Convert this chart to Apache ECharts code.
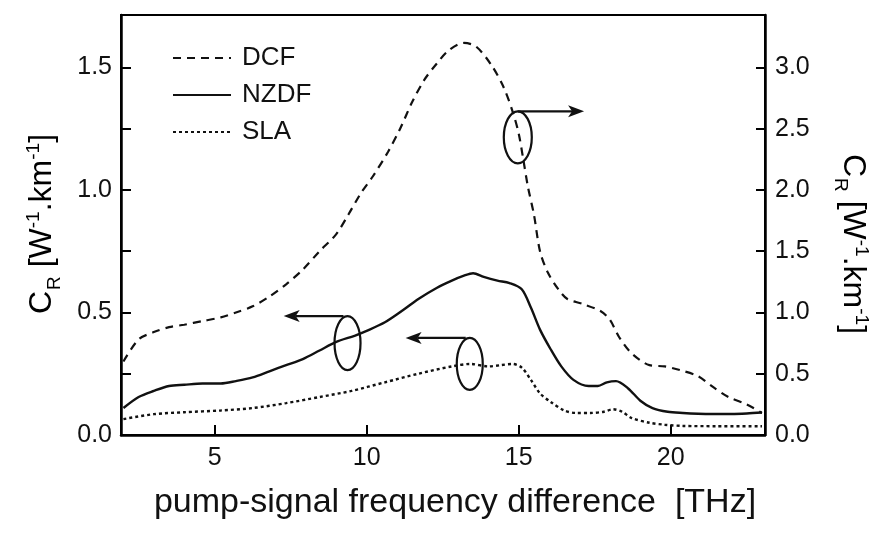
<!DOCTYPE html>
<html><head><meta charset="utf-8">
<script src="https://cdn.jsdelivr.net/npm/echarts@6/dist/echarts.min.js"></script>
<style>html,body{margin:0;padding:0;background:#fff}#c{width:883px;height:535px}</style>
</head><body><div id="c"></div>
<script>
const xTicks = [5, 10, 15, 20];
const dcfX = [2.0,2.5,3.0,3.5,4.0,4.6,5.2,5.7,6.25,6.8,7.35,7.9,8.45,9.0,9.4,9.8,10.2,10.7,11.1,11.5,11.9,12.3,12.7,13.2,13.6,14.1,14.5,14.8,15.0,15.15,15.3,15.5,15.7,15.95,16.3,16.6,17.1,17.7,18.0,18.3,18.7,19.3,19.8,20.3,20.9,21.4,21.9,22.5,23.0];
const dcfY = [0.60,0.78,0.84,0.88,0.90,0.93,0.96,1.00,1.05,1.13,1.23,1.35,1.50,1.64,1.80,1.97,2.11,2.31,2.50,2.72,2.90,3.03,3.14,3.20,3.17,3.02,2.84,2.64,2.46,2.25,2.03,1.80,1.50,1.33,1.19,1.11,1.07,1.01,0.94,0.80,0.67,0.57,0.56,0.53,0.48,0.39,0.31,0.25,0.18];
const nzdfX = [2.0,2.5,3.0,3.5,4.0,4.6,5.2,5.7,6.25,6.8,7.35,7.9,8.45,9.0,9.6,10.0,10.6,11.2,11.7,12.3,12.8,13.2,13.5,13.85,14.3,14.7,15.1,15.4,15.7,16.05,16.4,16.8,17.3,17.6,17.9,18.2,18.6,19.0,19.4,19.9,20.4,20.9,21.4,22.0,22.5,23.0];
const nzdfY = [0.11,0.155,0.18,0.20,0.205,0.21,0.21,0.22,0.235,0.26,0.285,0.31,0.345,0.38,0.405,0.425,0.46,0.51,0.555,0.60,0.63,0.65,0.66,0.645,0.63,0.62,0.595,0.52,0.43,0.35,0.28,0.225,0.20,0.20,0.215,0.22,0.19,0.14,0.11,0.095,0.09,0.087,0.086,0.086,0.088,0.092];
const slaX = [2.0,3.0,4.0,5.2,6.25,7.35,8.45,9.5,10.6,11.7,12.8,13.4,14.0,14.4,14.8,15.1,15.4,15.7,16.05,16.5,16.9,17.35,17.8,18.1,18.4,18.7,19.3,19.8,20.4,21.5,23.0];
const slaY = [0.065,0.085,0.093,0.10,0.11,0.13,0.155,0.18,0.215,0.25,0.28,0.29,0.28,0.285,0.29,0.275,0.225,0.17,0.135,0.10,0.09,0.09,0.095,0.105,0.095,0.07,0.05,0.042,0.037,0.036,0.036];
const seriesNames = ['DCF', 'NZDF', 'SLA'];
const xTitle = 'pump-signal frequency difference  [THz]';

const FONT = '"Liberation Sans", Arial, Helvetica, sans-serif';
const pair = (xs, ys) => xs.map((x, i) => [x, ys[i]]);
const chart = echarts.init(document.getElementById('c'), null, {renderer: 'canvas'});
const LMAX = 1.714, RMAX = 3.428;

const titleRich = {
  n: {fontSize: 32, fontFamily: FONT, color: '#111', lineHeight: 36, verticalAlign: 'bottom'},
  sub: {fontSize: 19, fontFamily: FONT, color: '#111', lineHeight: 36, verticalAlign: 'bottom', padding: [0,0,-6,1]},
  sup: {fontSize: 19, fontFamily: FONT, color: '#111', lineHeight: 16, verticalAlign: 'top', padding: [2,0,0,0]}
};
const crText = '{n|C}{sub|R}{n| [W}{sup|-1}{n|.km}{sup|-1}{n|]}';

chart.setOption({
  animation: false,
  backgroundColor: '#fff',
  textStyle: {fontFamily: FONT},
  grid: {left: 121, right: 118, top: 15, bottom: 100, show: true, borderColor: '#000', borderWidth: 2},
  legend: {
    orient: 'vertical', left: 167, top: 40, itemWidth: 58, itemHeight: 14, itemGap: 11,
    itemStyle: {opacity: 0},
    textStyle: {fontSize: 26, fontFamily: FONT, color: '#111', padding: [0,0,0,6]},
    data: seriesNames
  },
  xAxis: {
    type: 'value', min: 1.92, max: 23.1,
    axisLine: {lineStyle: {color: '#000', width: 2.5}},
    axisTick: {inside: true, length: 10, customValues: xTicks, lineStyle: {color: '#000', width: 2}},
    axisLabel: {customValues: xTicks, fontSize: 25, color: '#111', margin: 11, fontFamily: FONT},
    splitLine: {show: false}
  },
  yAxis: [{
    type: 'value', min: 0, max: LMAX, interval: 0.25,
    axisLine: {show: true, lineStyle: {color: '#000', width: 2.5}},
    axisTick: {inside: true, length: 10, lineStyle: {color: '#000', width: 2}},
    axisLabel: {fontSize: 25, color: '#111', margin: 9, fontFamily: FONT, showMaxLabel: false,
      formatter: v => (Math.abs(v * 2 - Math.round(v * 2)) < 1e-6 ? v.toFixed(1) : '')},
    splitLine: {show: false}
  }, {
    type: 'value', min: 0, max: RMAX, interval: 0.5, position: 'right',
    axisLine: {show: true, lineStyle: {color: '#000', width: 2.5}},
    axisTick: {inside: true, length: 9, lineStyle: {color: '#000', width: 2}},
    axisLabel: {fontSize: 25, color: '#111', margin: 10, fontFamily: FONT, showMaxLabel: false, formatter: v => v.toFixed(1)},
    splitLine: {show: false}
  }],
  series: [{
    name: seriesNames[0], type: 'line', yAxisIndex: 1, data: pair(dcfX, dcfY), smooth: 0.3, symbol: 'none',
    lineStyle: {color: '#111', width: 2.2, type: [8, 6]}, itemStyle: {color: '#111'}
  }, {
    name: seriesNames[1], type: 'line', yAxisIndex: 0, data: pair(nzdfX, nzdfY), smooth: 0.3, symbol: 'none',
    lineStyle: {color: '#111', width: 2.4, type: 'solid'}, itemStyle: {color: '#111'}
  }, {
    name: seriesNames[2], type: 'line', yAxisIndex: 0, data: pair(slaX, slaY), smooth: 0.3, symbol: 'none',
    lineStyle: {color: '#111', width: 2.4, type: [3, 3]}, itemStyle: {color: '#111'}
  }]
});

function loop(xv, yv, axisIdx, arrowToX, rx, ry) {
  const c = chart.convertToPixel({xAxisIndex: 0, yAxisIndex: axisIdx}, [xv, yv]);
  const endX = chart.convertToPixel({xAxisIndex: 0}, arrowToX);
  const topY = c[1] - ry;
  const dir = endX > c[0] ? 1 : -1;
  const startX = dir > 0 ? c[0] : c[0] - 4;
  return [
    {type: 'ellipse', shape: {cx: c[0], cy: c[1], rx: rx, ry: ry}, style: {fill: 'none', stroke: '#111', lineWidth: 2.2}, z: 100},
    {type: 'line', shape: {x1: startX, y1: topY, x2: endX - dir * 12, y2: topY}, style: {stroke: '#111', lineWidth: 2.2}, z: 100},
    {type: 'polygon', shape: {points: [[endX, topY], [endX - dir * 16, topY - 6], [endX - dir * 12, topY], [endX - dir * 16, topY + 6]]}, style: {fill: '#111'}, z: 100}
  ];
}

const g = [].concat(
  loop(14.97, 2.43, 1, 17.15, 14, 26),
  loop(9.37, 0.375, 0, 7.27, 13, 27),
  loop(13.39, 0.29, 0, 11.28, 13, 26)
);
g.push({type: 'text', x: 40, y: 224, rotation: Math.PI / 2, style: {text: crText, rich: titleRich, align: 'center', verticalAlign: 'middle'}, z: 100});
g.push({type: 'text', x: 855, y: 244, rotation: -Math.PI / 2, style: {text: crText, rich: titleRich, align: 'center', verticalAlign: 'middle'}, z: 100});
g.push({type: 'text', x: 455, y: 503, style: {text: xTitle, fontSize: 34, fontFamily: FONT, fill: '#111', align: 'center', verticalAlign: 'middle'}, z: 100});
chart.setOption({graphic: g});
</script></body></html>
